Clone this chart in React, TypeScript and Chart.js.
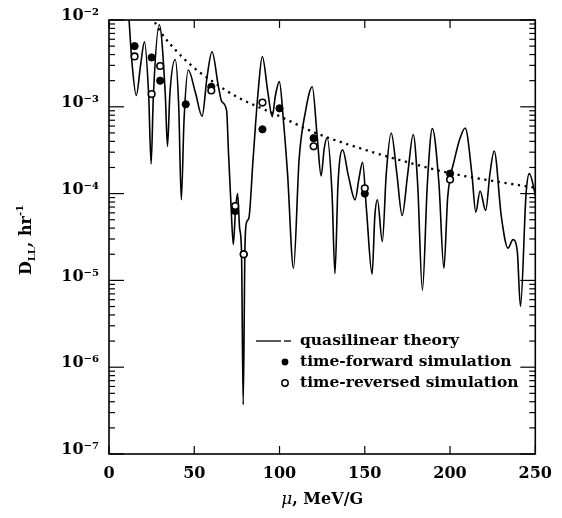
import React, { useEffect, useRef } from 'react';
import { Chart, registerables } from 'chart.js';

Chart.register(...registerables);

const W = 562;
const H = 518;

// Oscillating quasilinear curve (mu in MeV/G, D_LL in 1/hr)
const muCurve = [
  11.5, 13.5, 16.0, 18.5, 20.8, 23.3, 24.7, 26.0, 29.5, 33.0, 34.3, 35.7, 38.8, 40.9, 42.4, 44.0,
  46.5, 50.7, 54.6, 57.5, 60.4, 64.2, 66.1, 69.0, 70.0, 71.6, 72.9, 74.2, 75.4, 76.6, 77.7, 78.7,
  79.7, 80.6, 82.0, 84.5, 87.4, 89.9, 93.2, 95.7, 97.6, 99.9, 102.4, 104.7, 108.2, 111.5, 115.3,
  119.2, 122.1, 124.4, 126.2, 127.9, 130.8, 132.5, 134.3, 137.0, 140.4, 144.3, 146.6, 148.7, 151.0,
  154.3, 155.9, 157.4, 160.3, 162.6, 165.5, 168.8, 171.9, 175.2, 178.4, 181.0, 183.8, 186.7, 189.6,
  193.5, 196.4, 198.6, 200.6, 202.2, 205.8, 208.9, 212.8, 215.1, 217.6, 220.9, 223.4, 225.9, 230.1,
  234.0, 236.9, 239.4, 241.3, 244.6, 246.5, 249.4, 250.0,
];
const dllCurve = [
  1.2e-2, 3.2e-3, 1.35e-3, 3.0e-3, 5.6e-3, 1.3e-3, 2.2e-4, 1.3e-3, 8.8e-3, 1.4e-3, 3.5e-4, 1.4e-3,
  3.5e-3, 1.0e-3, 8.5e-5, 7.0e-4, 2.65e-3, 1.45e-3, 7.8e-4, 2.2e-3, 4.3e-3, 1.7e-3, 1.15e-3, 9.0e-4,
  3.2e-4, 7.0e-5, 2.6e-5, 6.5e-5, 1.0e-4, 4.0e-5, 2.2e-5, 3.7e-7, 2.2e-5, 4.6e-5, 5.2e-5, 2.5e-4,
  1.45e-3, 3.8e-3, 1.45e-3, 7.7e-4, 1.35e-3, 1.95e-3, 6.5e-4, 1.7e-4, 1.38e-5, 2.5e-4, 9.0e-4,
  1.7e-3, 4.5e-4, 1.6e-4, 3.3e-4, 4.4e-4, 1.0e-4, 1.2e-5, 1.3e-4, 3.2e-4, 1.6e-4, 8.5e-5, 1.5e-4,
  2.3e-4, 6.5e-5, 1.18e-5, 5.5e-5, 8.5e-5, 2.8e-5, 1.7e-4, 5.0e-4, 1.7e-4, 5.6e-5, 1.7e-4, 4.8e-4,
  1.3e-4, 7.7e-6, 1.3e-4, 5.6e-4, 1.3e-4, 1.38e-5, 9.0e-5, 1.7e-4, 2.3e-4, 4.3e-4, 5.7e-4, 1.7e-4,
  6.1e-5, 1.07e-4, 6.4e-5, 1.7e-4, 3.1e-4, 5.4e-5, 2.35e-5, 2.95e-5, 2.2e-5, 5.0e-6, 1.0e-4,
  1.7e-4, 1.1e-4, 9.5e-5,
];

// Dotted envelope (quasilinear theory trend)
const muTheory = [25, 30, 40, 50, 60, 75, 90, 100, 120, 150, 175, 200, 225, 250];
const dllTheory = [
  1.1e-2, 7.4e-3, 4.3e-3, 2.8e-3, 2.0e-3, 1.3e-3, 9.5e-4, 7.8e-4, 5.1e-4, 3.2e-4, 2.3e-4, 1.72e-4,
  1.4e-4, 1.17e-4,
];

// Simulation results
const muForward = [15, 25, 30, 45, 60, 74, 79, 90, 100, 120, 150, 200];
const dllForward = [5.0e-3, 3.7e-3, 2.0e-3, 1.07e-3, 1.7e-3, 6.3e-5, 2.0e-5, 5.5e-4, 9.6e-4, 4.35e-4, 1.0e-4, 1.7e-4];
const muReversed = [15, 25, 30, 60, 74, 79, 90, 120, 150, 200];
const dllReversed = [3.8e-3, 1.4e-3, 2.95e-3, 1.54e-3, 7.2e-5, 2.0e-5, 1.12e-3, 3.5e-4, 1.15e-4, 1.45e-4];

const xTicks = [0, 50, 100, 150, 200, 250];
const yExponents = [-7, -6, -5, -4, -3, -2];
const legendLabels = ['quasilinear theory', 'time-forward simulation', 'time-reversed simulation'];

const FONT = '"DejaVu Serif", "Liberation Serif", serif';
const SUP: Record<string, string> = {
  '-': '\u207B', '0': '\u2070', '1': '\u00B9', '2': '\u00B2', '3': '\u00B3', '4': '\u2074',
  '5': '\u2075', '6': '\u2076', '7': '\u2077', '8': '\u2078', '9': '\u2079',
};
const sup = (s: string) => s.split('').map((c) => SUP[c] ?? c).join('');

const pts = (xs: number[], ys: number[]) => xs.map((x, i) => ({ x, y: ys[i] }));

const framePlugin = {
  id: 'frameAndText',
  afterDraw(chart: any) {
    const { ctx, chartArea: a, scales } = chart;
    const xs = scales.x;
    const ys = scales.y;
    ctx.save();
    ctx.strokeStyle = '#000';
    ctx.fillStyle = '#000';
    ctx.lineWidth = 1.6;
    ctx.strokeRect(a.left, a.top, a.right - a.left, a.bottom - a.top);

    const seg = (x1: number, y1: number, x2: number, y2: number) => {
      ctx.beginPath();
      ctx.moveTo(x1, y1);
      ctx.lineTo(x2, y2);
      ctx.stroke();
    };
    ctx.lineWidth = 1.2;
    for (const v of xTicks) {
      const px = xs.getPixelForValue(v);
      seg(px, a.bottom, px, a.bottom - 8);
      seg(px, a.top, px, a.top + 8);
    }
    for (const e of yExponents) {
      const py = ys.getPixelForValue(Math.pow(10, e));
      seg(a.left, py, a.left + 15, py);
      seg(a.right, py, a.right - 15, py);
      if (e < -2) {
        for (let m = 2; m <= 9; m++) {
          const pm = ys.getPixelForValue(m * Math.pow(10, e));
          seg(a.left, pm, a.left + 6, pm);
          seg(a.right, pm, a.right - 6, pm);
        }
      }
    }

    // x-axis title: "μ, MeV/G"
    ctx.textBaseline = 'alphabetic';
    ctx.textAlign = 'left';
    ctx.font = `italic 17px ${FONT}`;
    const muW = ctx.measureText('\u03BC').width;
    ctx.font = `bold 16px ${FONT}`;
    const restW = ctx.measureText(', MeV/G').width;
    const x0 = (a.left + a.right) / 2 - (muW + restW) / 2;
    ctx.font = `italic 17px ${FONT}`;
    ctx.fillText('\u03BC', x0, 504);
    ctx.font = `bold 16px ${FONT}`;
    ctx.fillText(', MeV/G', x0 + muW, 504);

    // y-axis title: "D_LL, hr^-1"
    ctx.save();
    ctx.translate(31, 240);
    ctx.rotate(-Math.PI / 2);
    const big = `bold 16px ${FONT}`;
    const small = `bold 10px ${FONT}`;
    const parts: [string, string, number][] = [
      ['D', big, 0],
      ['LL', small, 4],
      [', hr', big, 0],
      ['-1', small, -8],
    ];
    let total = 0;
    for (const [t, f] of parts) {
      ctx.font = f;
      total += ctx.measureText(t).width;
    }
    let lx = -total / 2;
    for (const [t, f, dy] of parts) {
      ctx.font = f;
      ctx.fillText(t, lx, dy);
      lx += ctx.measureText(t).width;
    }
    ctx.restore();

    // legend
    const lxText = 300;
    const rows = [341, 362, 383];
    ctx.lineWidth = 1.3;
    seg(256, rows[0], 281, rows[0]);
    seg(284, rows[0], 291, rows[0]);
    ctx.beginPath();
    ctx.arc(285, rows[1], 3.4, 0, Math.PI * 2);
    ctx.fill();
    ctx.beginPath();
    ctx.lineWidth = 1.5;
    ctx.arc(285, rows[2], 3.2, 0, Math.PI * 2);
    ctx.stroke();
    ctx.font = `bold 15.5px ${FONT}`;
    ctx.textBaseline = 'middle';
    legendLabels.forEach((t, i) => ctx.fillText(t, lxText, rows[i]));
    ctx.restore();
  },
};

export default function App() {
  const ref = useRef<HTMLCanvasElement>(null);
  useEffect(() => {
    document.body.style.margin = '0';
    const canvas = ref.current!;
    const chart = new Chart(canvas, {
      type: 'line',
      data: {
        datasets: [
          {
            label: 'time-reversed simulation',
            data: pts(muReversed, dllReversed),
            showLine: false,
            pointRadius: 3.3,
            pointBackgroundColor: '#fff',
            pointBorderColor: '#000',
            pointBorderWidth: 1.6,
            order: 1,
          },
          {
            label: 'time-forward simulation',
            data: pts(muForward, dllForward),
            showLine: false,
            pointRadius: 3.6,
            pointBackgroundColor: '#000',
            pointBorderColor: '#000',
            pointBorderWidth: 1,
            order: 2,
          },
          {
            label: 'quasilinear theory (trend)',
            data: pts(muTheory, dllTheory),
            borderColor: '#000',
            borderWidth: 2.3,
            borderDash: [2.2, 4.6],
            pointRadius: 0,
            cubicInterpolationMode: 'monotone',
            fill: false,
            order: 3,
          },
          {
            label: 'quasilinear theory',
            data: pts(muCurve, dllCurve),
            borderColor: '#000',
            borderWidth: 1.6,
            pointRadius: 0,
            cubicInterpolationMode: 'monotone',
            fill: false,
            order: 4,
          },
        ],
      } as any,
      options: {
        responsive: false,
        animation: false,
        devicePixelRatio: 1,
        layout: { padding: { top: 20, right: 21, left: 0, bottom: 0 } },
        plugins: { legend: { display: false }, tooltip: { enabled: false } },
        scales: {
          x: {
            type: 'linear',
            min: 0,
            max: 250,
            afterBuildTicks: (s: any) => {
              s.ticks = xTicks.map((v) => ({ value: v }));
            },
            afterFit: (s: any) => {
              s.height = 64;
            },
            grid: { display: false, drawTicks: false },
            border: { display: false },
            ticks: {
              padding: 10,
              color: '#000',
              maxRotation: 0,
              autoSkip: false,
              font: { family: FONT, weight: 'bold', size: 16 },
              callback: (v: any) => String(v),
            },
          },
          y: {
            type: 'logarithmic',
            min: 1e-7,
            max: 1e-2,
            afterBuildTicks: (s: any) => {
              s.ticks = yExponents.map((e) => ({ value: Math.pow(10, e), major: true }));
            },
            afterFit: (s: any) => {
              s.width = 109;
            },
            grid: { display: false, drawTicks: false },
            border: { display: false },
            ticks: {
              padding: 10,
              labelOffset: -4,
              color: '#000',
              autoSkip: false,
              font: { family: FONT, weight: 'bold', size: 16 },
              callback: (v: any) => '10' + sup(String(Math.round(Math.log10(Number(v))))),
            },
          },
        },
      } as any,
      plugins: [framePlugin],
    });
    return () => chart.destroy();
  }, []);
  return (
    <div style={{ width: W, height: H }}>
      <canvas ref={ref} width={W} height={H} style={{ display: 'block' }} />
    </div>
  );
}
